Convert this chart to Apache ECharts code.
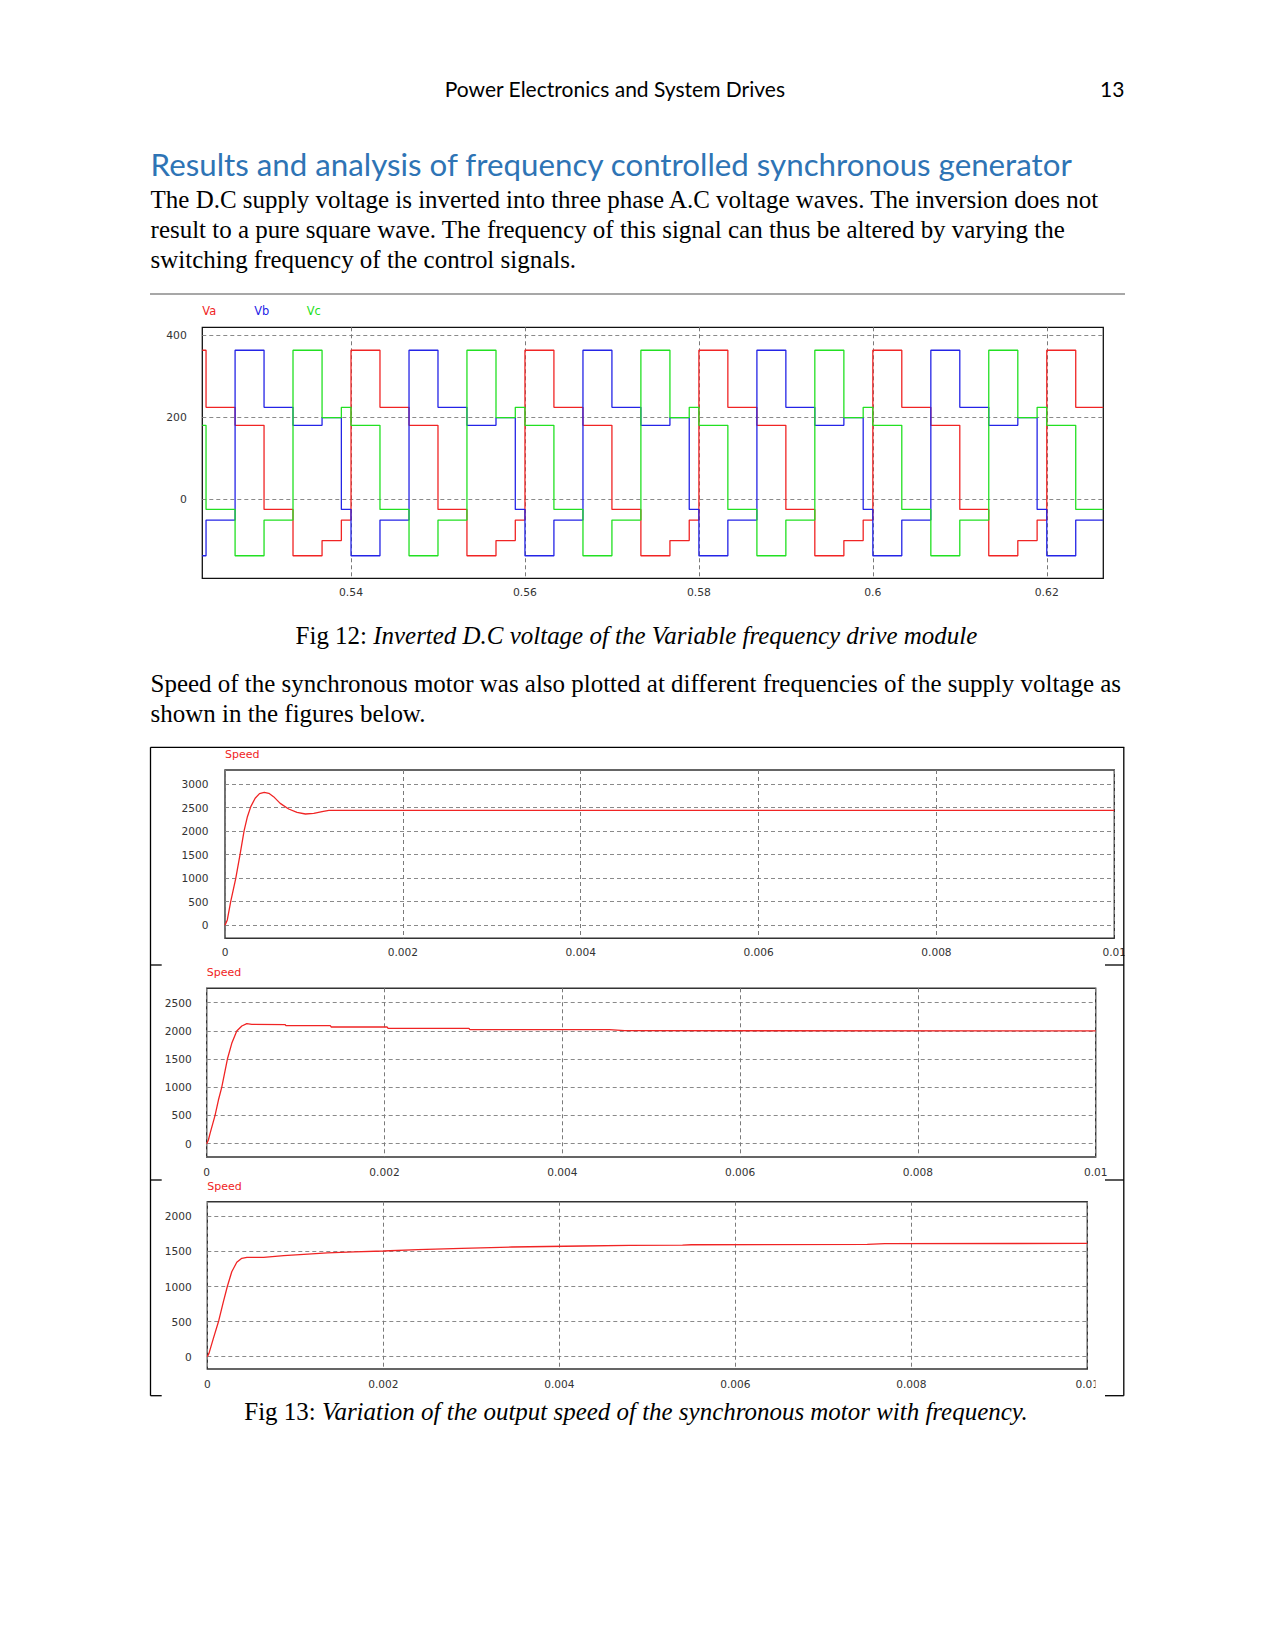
<!DOCTYPE html>
<html><head><meta charset="utf-8">
<script src="https://cdn.jsdelivr.net/npm/echarts@6/dist/echarts.min.js"></script>
<style>html,body{margin:0;padding:0;background:#fff}#c{width:1275px;height:1651px}</style>
</head><body><div id="c"></div>
<script>
// ================= Fig 12 : inverter phase voltages =================
// switching instants (s) – each level below holds from this time until the next one
const vTimes = [0.5229, 0.52333, 0.52667, 0.53, 0.53333, 0.53667, 0.53889,
  0.54, 0.54333, 0.54667, 0.55, 0.55333, 0.55667, 0.55889,
  0.56, 0.56333, 0.56667, 0.57, 0.57333, 0.57667, 0.57889,
  0.58, 0.58333, 0.58667, 0.59, 0.59333, 0.59667, 0.59889,
  0.60, 0.60333, 0.60667, 0.61, 0.61333, 0.61667, 0.61889,
  0.62, 0.62333, 0.6265];
const vaLevels = [364, 225, 181, -24, -137, -100, -50,
  364, 225, 181, -24, -137, -100, -50,
  364, 225, 181, -24, -137, -100, -50,
  364, 225, 181, -24, -137, -100, -50,
  364, 225, 181, -24, -137, -100, -50,
  364, 225, 225];
const vbLevels = [-137, -50, 364, 225, 181, 200, -24,
  -137, -50, 364, 225, 181, 200, -24,
  -137, -50, 364, 225, 181, 200, -24,
  -137, -50, 364, 225, 181, 200, -24,
  -137, -50, 364, 225, 181, 200, -24,
  -137, -50, -50];
const vcLevels = [181, -24, -137, -50, 364, 200, 225,
  181, -24, -137, -50, 364, 200, 225,
  181, -24, -137, -50, 364, 200, 225,
  181, -24, -137, -50, 364, 200, 225,
  181, -24, -137, -50, 364, 200, 225,
  181, -24, -24];
const vTicksX = [0.54, 0.56, 0.58, 0.6, 0.62];
const vTicksY = [0, 200, 400];
const vNames = ['Va', 'Vb', 'Vc'];

// ================= Fig 13 : motor speed =================
const speed1 = [[0, 0], [0.000026, 113], [0.000064, 502], [0.000121, 998], [0.000169, 1500],
  [0.000215, 2009], [0.000252, 2306], [0.00029, 2519], [0.000339, 2696], [0.000388, 2795],
  [0.000441, 2823], [0.000493, 2802], [0.000546, 2731], [0.000621, 2589], [0.000716, 2469],
  [0.00081, 2398], [0.000904, 2363], [0.000998, 2377], [0.001092, 2413], [0.001168, 2441],
  [0.01, 2441]];
const speed2 = [[0, 0], [0.000019, 65], [0.000038, 183], [0.000094, 502], [0.000132, 774],
  [0.000169, 999], [0.000233, 1501], [0.000282, 1779], [0.000338, 1998], [0.000395, 2086],
  [0.000451, 2128], [0.000508, 2116], [0.000883, 2110], [0.000891, 2092], [0.00139, 2092],
  [0.0014, 2069], [0.00203, 2069], [0.00204, 2045], [0.00295, 2045], [0.00296, 2021],
  [0.00453, 2021], [0.0047, 2003], [0.01, 2000]];
const speed3 = [[0, 0], [0.000019, 48], [0.000069, 261], [0.00013, 513], [0.000183, 784],
  [0.000229, 1007], [0.000278, 1211], [0.000335, 1345], [0.000392, 1402], [0.00045, 1416],
  [0.00064, 1416], [0.000869, 1440], [0.001097, 1459], [0.001364, 1478], [0.00167, 1492],
  [0.002, 1506], [0.00239, 1525], [0.00289, 1544], [0.00346, 1563], [0.00426, 1577],
  [0.0048, 1587], [0.0054, 1590], [0.0055, 1595], [0.0075, 1600], [0.0077, 1612], [0.01, 1613]];
const speedTicksX = [0, 0.002, 0.004, 0.006, 0.008, 0.01];
const speed1TicksY = [0, 500, 1000, 1500, 2000, 2500, 3000];
const speed2TicksY = [0, 500, 1000, 1500, 2000, 2500];
const speed3TicksY = [0, 500, 1000, 1500, 2000];

// ================= layout / style =================
const RED = '#f02424', BLUE = '#2424e6', GREEN = '#22e022';
const SERIF = '"Liberation Serif", "Times New Roman", serif';
const SANS = 'Lato, "Open Sans", sans-serif';
const AXF = '"DejaVu Sans", Verdana, sans-serif';

const mctx = document.createElement('canvas').getContext('2d');
function textW(str, family, size, style, weight) {
  mctx.font = (style || 'normal') + ' ' + (weight || 'normal') + ' ' + size + 'px ' + family;
  return mctx.measureText(str).width;
}
function fit(str, family, targetW, style, weight) {
  return 100 * targetW / textW(str, family, 100, style, weight);
}

const graphics = [];
function txt(str, x, baseline, family, size, o) {
  o = o || {};
  const k = family === SERIF ? 0.34 : 0.37;
  graphics.push({
    type: 'text', x: x, y: baseline - k * size, silent: true, z: 100,
    style: {
      text: str, fill: o.color || '#000',
      font: (o.style || 'normal') + ' ' + (o.weight || 'normal') + ' ' + size + 'px ' + family,
      textAlign: o.align || 'left', textVerticalAlign: 'middle'
    }
  });
}
function line(x1, y1, x2, y2, color, w) {
  graphics.push({ type: 'line', silent: true, z: 110, shape: { x1, y1, x2, y2 },
    style: { stroke: color || '#000', lineWidth: w || 1.3 } });
}
function rect(x, y, w, h) {
  graphics.push({ type: 'rect', silent: true, z: 105, shape: { x, y, width: w, height: h }, style: { fill: '#fff' } });
}

// header
const hdr = 'Power Electronics and System Drives';
const hSize = fit(hdr, SANS, 341);
txt(hdr, 614.9, 96.7, SANS, hSize, { align: 'center' });
txt('13', 1124.4, 96.7, SANS, hSize, { align: 'right' });
// heading
const head = 'Results and analysis of frequency controlled synchronous generator';
txt(head, 150.6, 175.5, SANS, fit(head, SANS, 923), { color: '#2e74b5' });
// body
const b1 = 'The D.C supply voltage is inverted into three phase A.C voltage waves. The inversion does not';
const bSize = fit(b1, SERIF, 950);
txt(b1, 150.6, 208.3, SERIF, bSize);
txt('result to a pure square wave. The frequency of this signal can thus be altered by varying the', 150.6, 238, SERIF, bSize);
txt('switching frequency of the control signals.', 150.6, 267.5, SERIF, bSize);
function caption(a, b, cx, baseline) {
  const wa = textW(a, SERIF, bSize), wb = textW(b, SERIF, bSize, 'italic');
  const x0 = cx - (wa + wb) / 2;
  txt(a, x0, baseline, SERIF, bSize);
  txt(b, x0 + wa, baseline, SERIF, bSize, { style: 'italic' });
}
caption('Fig 12: ', 'Inverted D.C voltage of the Variable frequency drive module', 636.4, 644);
txt('Speed of the synchronous motor was also plotted at different frequencies of the supply voltage as', 150.6, 691.7, SERIF, bSize);
txt('shown in the figures below.', 150.6, 721.5, SERIF, bSize);
caption('Fig 13: ', 'Variation of the output speed of the synchronous motor with frequency.', 636, 1419.5);

// separator above fig 12
line(150, 294, 1125, 294, '#8a8a8a', 1.6);
// legend of fig 12
const legX = [202.3, 254.3, 306.7];
const legC = [RED, BLUE, GREEN];
vNames.forEach((n, i) => txt(n, legX[i], 315.5, AXF, 11.4, { color: legC[i] }));
// "Speed" labels
txt('Speed', 225, 758.5, AXF, 11, { color: RED });
txt('Speed', 206.7, 977, AXF, 11, { color: RED });
txt('Speed', 207.3, 1191, AXF, 11, { color: RED });

// frame of fig 13
line(150.5, 747.3, 1124.3, 747.3);
line(150.5, 747.3, 150.5, 1395.7);
line(1123.8, 747.3, 1123.8, 1395.7);
[965, 1180, 1395.7].forEach(y => { line(150.5, y, 161.7, y); line(1105, y, 1123.8, y); });
// clipped tick labels
rect(1124.6, 944, 14, 18);
rect(1095.5, 1376, 12, 16);

// ================= axes =================
const fmt = v => String(parseFloat(Number(v).toPrecision(6)));
function xAx(gi, min, max, ticks, fs, margin, dash) {
  return { type: 'value', gridIndex: gi, min, max,
    axisLine: { show: false }, axisTick: { show: false, customValues: ticks },
    axisLabel: { customValues: ticks, fontSize: fs, fontFamily: AXF, color: '#333', margin, formatter: fmt },
    splitLine: { show: true, lineStyle: { color: '#7a7a7a', width: 1, type: dash } } };
}
function yAx(gi, min, max, ticks, fs, margin, dash) {
  return { type: 'value', gridIndex: gi, min, max,
    axisLine: { show: false }, axisTick: { show: false, customValues: ticks },
    axisLabel: { customValues: ticks, fontSize: fs, fontFamily: AXF, color: '#333', margin, formatter: fmt },
    splitLine: { show: true, lineStyle: { color: '#8a8a8a', width: 1, type: dash } } };
}

const grids = [
  { left: 202.3, top: 327.3, width: 901, height: 251, borderColor: '#111', borderWidth: 1.3 },
  { left: 225, top: 770, width: 889.3, height: 168.3, borderColor: '#333', borderWidth: 1.4 },
  { left: 206.7, top: 988.3, width: 889, height: 168.7, borderColor: '#333', borderWidth: 1.4 },
  { left: 207.3, top: 1201.7, width: 880, height: 167.3, borderColor: '#333', borderWidth: 1.4 }
].map(g => Object.assign({ show: true, backgroundColor: '#fff', containLabel: false }, g));

const xAxes = [
  xAx(0, 0.5229, 0.6265, vTicksX, 10.8, 9, [4, 3]),
  xAx(1, 0, 0.01, speedTicksX, 10.6, 8.5, [4, 3]),
  xAx(2, 0, 0.01, speedTicksX, 10.6, 9, [4, 3]),
  xAx(3, 0, 0.01, speedTicksX, 10.6, 9, [4, 3])
];
const yAxes = [
  yAx(0, -192, 420, vTicksY, 10.8, 15.5, [4, 3]),
  yAx(1, -276, 3297, speed1TicksY, 10.6, 16.5, [4, 3]),
  yAx(2, -236, 2755, speed2TicksY, 10.6, 15, [4, 3]),
  yAx(3, -175, 2208, speed3TicksY, 10.6, 15.5, [4, 3])
];

const vLevels = [vaLevels, vbLevels, vcLevels];
const series = vNames.map((n, i) => ({
  name: n, type: 'line', xAxisIndex: 0, yAxisIndex: 0, step: 'end', showSymbol: false, silent: true,
  data: vTimes.map((t, j) => [t, vLevels[i][j]]),
  lineStyle: { color: legC[i], width: 1.3 }, z: 2 + i
}));
[speed1, speed2, speed3].forEach((d, i) => series.push({
  name: 'Speed' + (i + 1), type: 'line', xAxisIndex: i + 1, yAxisIndex: i + 1, showSymbol: false, silent: true,
  data: d, lineStyle: { color: RED, width: 1.3 }, z: 3
}));

const chart = echarts.init(document.getElementById('c'), null, { renderer: 'svg', width: 1275, height: 1651 });
chart.setOption({
  animation: false, backgroundColor: '#fff',
  grid: grids, xAxis: xAxes, yAxis: yAxes, series: series, graphic: graphics
});
</script></body></html>
